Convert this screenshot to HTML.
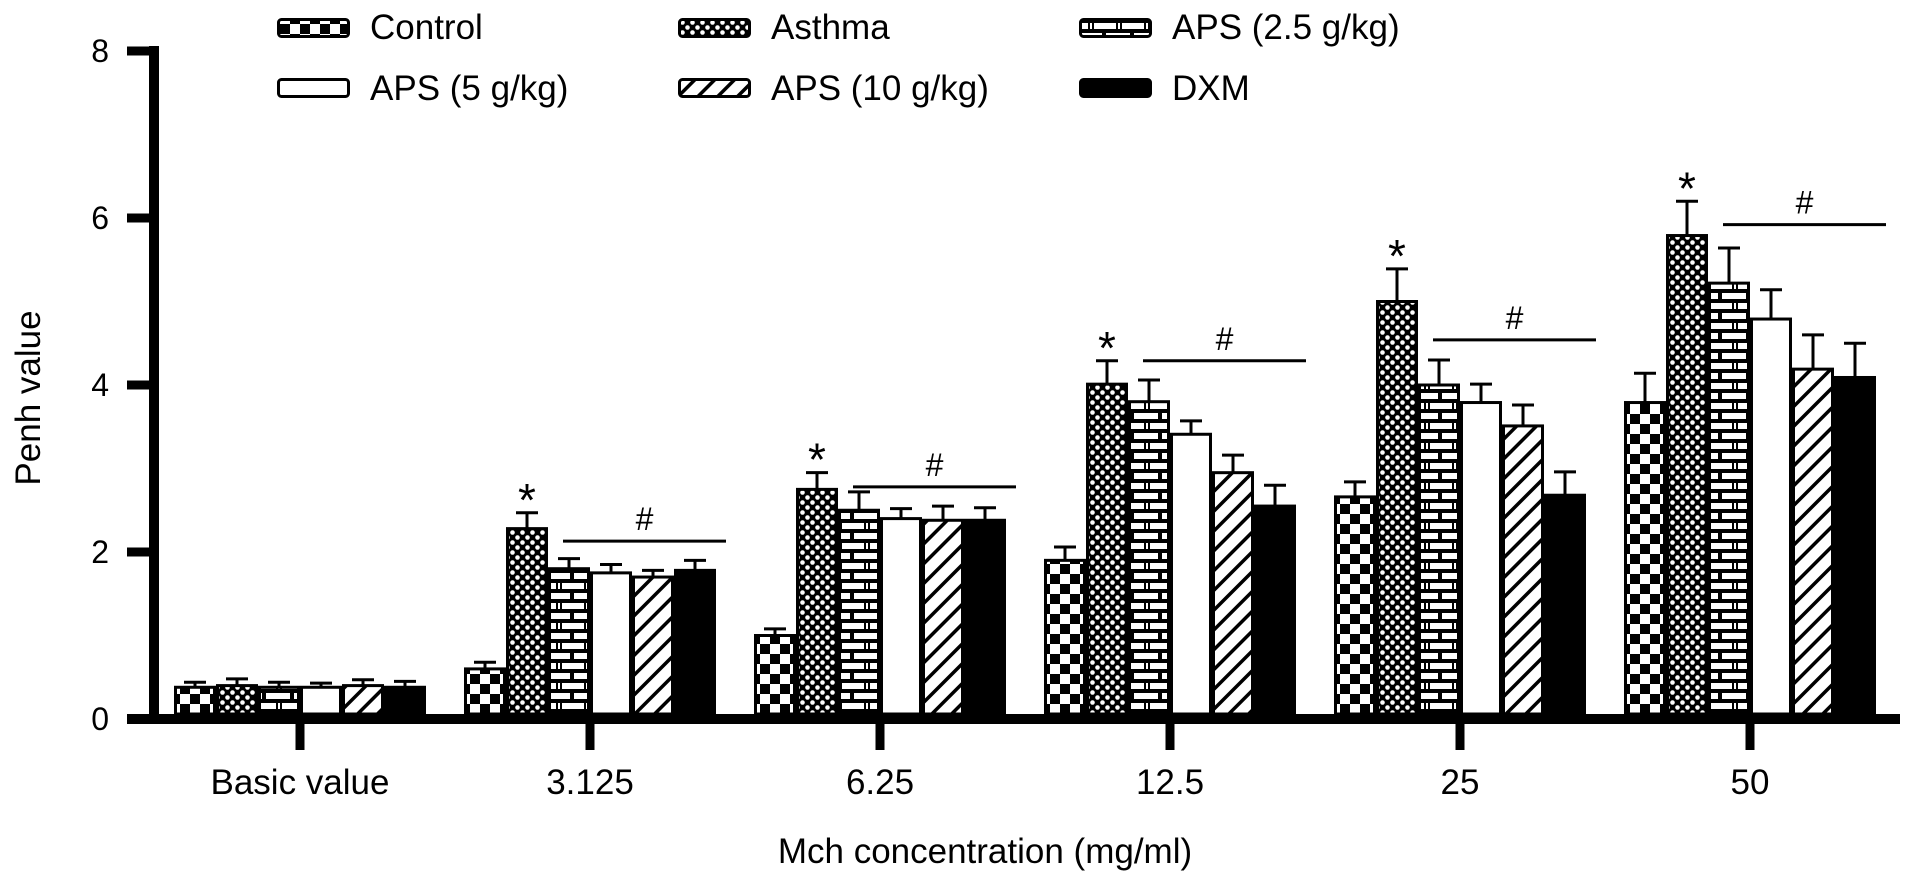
<!DOCTYPE html>
<html><head><meta charset="utf-8"><style>
html,body{margin:0;padding:0;background:#fff;}
svg{display:block;font-family:"Liberation Sans",Arial,sans-serif;}
</style></head><body>
<svg id="chart" width="1913" height="883" viewBox="0 0 1913 883" xmlns="http://www.w3.org/2000/svg">
<defs>
<pattern id="p-checker" patternUnits="userSpaceOnUse" width="20" height="20" x="0" y="4">
<rect width="20" height="20" fill="#fff"/><rect width="10" height="10" fill="#000"/><rect x="10" y="10" width="10" height="10" fill="#000"/>
</pattern>
<pattern id="p-dots" patternUnits="userSpaceOnUse" width="10" height="10">
<rect width="10" height="10" fill="#000"/><circle cx="2.5" cy="2.5" r="2.3" fill="#fff"/><circle cx="7.5" cy="7.5" r="2.3" fill="#fff"/>
</pattern>
<pattern id="p-brick" patternUnits="userSpaceOnUse" width="28" height="20">
<rect width="28" height="20" fill="#000"/>
<rect x="2" y="3" width="22" height="6" fill="#fff"/><rect x="26" y="3" width="2" height="6" fill="#fff"/>
<rect x="0" y="13" width="10" height="6" fill="#fff"/><rect x="14" y="13" width="14" height="6" fill="#fff"/>
</pattern>
<pattern id="p-hatch" patternUnits="userSpaceOnUse" width="14" height="14" patternTransform="rotate(45)">
<rect width="14" height="14" fill="#fff"/><rect x="0" y="0" width="3.5" height="14" fill="#000"/>
</pattern>
</defs>
<g id="legend"></g>
<g id="plot"></g>
</svg>
<script>
const categories = ["Basic value","3.125","6.25","12.5","25","50"];
const seriesNames = ["Control","Asthma","APS (2.5 g/kg)","APS (5 g/kg)","APS (10 g/kg)","DXM"];
const control   = [0.38,0.60,1.00,1.90,2.66,3.79];
const asthma    = [0.40,2.28,2.75,4.01,5.00,5.79];
const aps25     = [0.38,1.80,2.50,3.80,4.00,5.22];
const aps5      = [0.38,1.75,2.40,3.41,3.79,4.79];
const aps10     = [0.40,1.70,2.38,2.95,3.51,4.19];
const dxm       = [0.38,1.78,2.38,2.55,2.68,4.09];
const controlErr = [0.06,0.08,0.08,0.16,0.18,0.35];
const asthmaErr  = [0.08,0.19,0.20,0.28,0.39,0.41];
const aps25Err   = [0.06,0.12,0.22,0.26,0.30,0.42];
const aps5Err    = [0.05,0.10,0.12,0.16,0.22,0.35];
const aps10Err   = [0.07,0.08,0.17,0.21,0.25,0.41];
const dxmErr     = [0.07,0.12,0.15,0.25,0.28,0.41];
const starGroups = [1,2,3,4,5];
const hashLineValues = [null,2.13,2.78,4.29,4.54,5.92];
const yTicks = [0,2,4,6,8];

const values = [control,asthma,aps25,aps5,aps10,dxm];
const errs = [controlErr,asthmaErr,aps25Err,aps5Err,aps10Err,dxmErr];
const fills = ["url(#p-checker)","url(#p-dots)","url(#p-brick)","#fff","url(#p-hatch)","#000"];
const NS="http://www.w3.org/2000/svg";
const svg=document.getElementById('chart'), plot=document.getElementById('plot'), legend=document.getElementById('legend');
const Y0=719, PX=83.5, X0=300, GAP=290, BW=42;
const yS=v=>Y0-v*PX;
const xG=i=>X0+i*GAP;
const xB=(g,k)=>xG(g)+(k-3)*BW;
function mk(tag,attrs,parent){const e=document.createElementNS(NS,tag);for(const k in attrs)e.setAttribute(k,attrs[k]);(parent||plot).appendChild(e);return e;}

values.forEach((arr,k)=>{
  arr.forEach((v,g)=>{
    const x=xB(g,k);
    const r=mk('rect',{x:x+1.5,y:yS(v),width:BW-3,height:Y0-yS(v)-5,fill:fills[k],stroke:'#000','stroke-width':3});
    
    
    const cx=x+BW/2, ye=yS(v+errs[k][g]);
    const e=mk('path',{d:`M${cx},${yS(v)} V${ye} M${cx-11},${ye} H${cx+11}`,stroke:'#000','stroke-width':3,fill:'none'});
    
    
  });
});
starGroups.forEach(g=>{
  const t=mk('text',{x:xB(g,1)+BW/2,y:yS(asthma[g]+asthmaErr[g])+3,'text-anchor':'middle','font-size':46});
  t.textContent='*';
  
  
});
hashLineValues.forEach((v,g)=>{
  if(v===null)return;
  const x1=xB(g,2)+15, x2=xB(g,5)+BW+10, y=yS(v);
  const l=mk('line',{x1:x1,x2:x2,y1:y,y2:y,stroke:'#000','stroke-width':3});
  
  
  const t=mk('text',{x:(x1+x2)/2,y:y-11,'text-anchor':'middle','font-size':32});
  t.textContent='#';
  
  
});
const ya=mk('line',{x1:154,x2:154,y1:yS(8)-5,y2:Y0+5,stroke:'#000','stroke-width':10});


const xa=mk('line',{x1:127,x2:1900,y1:Y0,y2:Y0,stroke:'#000','stroke-width':10});


yTicks.forEach(v=>{
  const t=mk('line',{x1:127,x2:154,y1:yS(v),y2:yS(v),stroke:'#000','stroke-width':9});
  
  
  const l=mk('text',{x:109,y:yS(v)+11,'text-anchor':'end','font-size':32});
  l.textContent=v;
  
  
});
categories.forEach((c,g)=>{
  const t=mk('line',{x1:xG(g),x2:xG(g),y1:Y0,y2:750,stroke:'#000','stroke-width':9});
  
  
  const l=mk('text',{x:xG(g),y:794,'text-anchor':'middle','font-size':35});
  l.textContent=c;
  
  
});
const xt=mk('text',{x:985,y:863,'text-anchor':'middle','font-size':35});
xt.textContent='Mch concentration (mg/ml)';


const yt=mk('text',{x:0,y:0,'text-anchor':'middle','font-size':35,transform:'translate(40,398) rotate(-90)'});
yt.textContent='Penh value';


seriesNames.forEach((n,k)=>{
  const col=k%3, row=Math.floor(k/3);
  const x=277+col*401, y=row?78:18;
  const g=mk('g',{},legend);
  
  
  mk('rect',{x:x+1.5,y:y+1.5,width:70,height:17,rx:3,fill:fills[k],stroke:'#000','stroke-width':3},g);
  const t=mk('text',{x:x+93,y:row?100:39,'font-size':35},g);
  t.textContent=n;
});
</script>
</body></html>
